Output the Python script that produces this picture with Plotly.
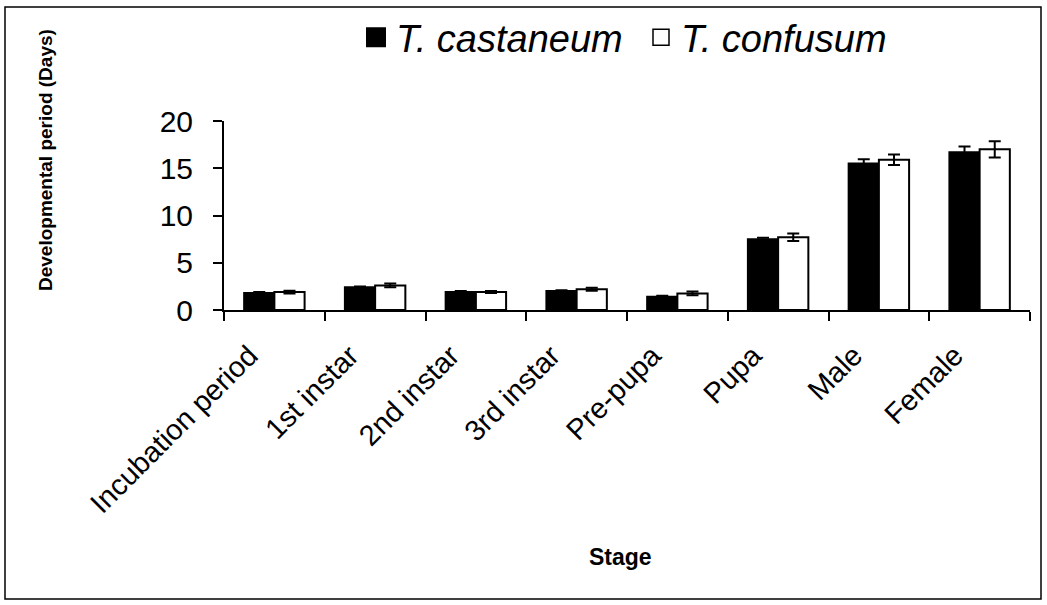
import plotly.graph_objects as go

stages = ["Incubation period", "1st instar", "2nd instar", "3rd instar",
          "Pre-pupa", "Pupa", "Male", "Female"]
castaneum = [1.8, 2.4, 1.9, 2.0, 1.4, 7.5, 15.5, 16.7]
castaneum_err = [0.1, 0.1, 0.1, 0.1, 0.1, 0.15, 0.45, 0.6]
confusum = [1.9, 2.6, 1.9, 2.2, 1.75, 7.7, 15.9, 17.0]
confusum_err = [0.15, 0.2, 0.1, 0.15, 0.2, 0.4, 0.55, 0.85]
series_names = ["T. castaneum", "T. confusum"]
y_ticks = [0, 5, 10, 15, 20]
x_title = "Stage"
y_title = "Developmental period (Days)"

W, H = 1047, 605
L, R, T, B = 224, 17, 121, 295
pw, ph = W - L - R, H - T - B

def px2paper_x(px):
    return (px - L) / pw

def px2paper_y(py):
    return 1 - (py - T) / ph

fig = go.Figure()
fig.add_trace(go.Bar(
    x=stages, y=castaneum, name=series_names[0], showlegend=False,
    marker=dict(color="black", line=dict(color="black", width=2)),
    error_y=dict(type="data", array=castaneum_err, color="black", thickness=2, width=6),
))
fig.add_trace(go.Bar(
    x=stages, y=confusum, name=series_names[1], showlegend=False,
    marker=dict(color="white", line=dict(color="black", width=2)),
    error_y=dict(type="data", array=confusum_err, color="black", thickness=2, width=6),
))
# legend proxies
fig.add_trace(go.Scatter(x=[None], y=[None], mode="markers", name=series_names[0],
                         marker=dict(symbol="square", size=16, color="black",
                                     line=dict(color="black", width=4))))
fig.add_trace(go.Scatter(x=[None], y=[None], mode="markers", name=series_names[1],
                         marker=dict(symbol="square", size=16, color="white",
                                     line=dict(color="black", width=1.5))))

fig.update_layout(
    width=W, height=H,
    margin=dict(l=L, r=R, t=T, b=B, autoexpand=False),
    paper_bgcolor="white", plot_bgcolor="white",
    font=dict(family="Liberation Sans, Arial, sans-serif", color="black"),
    barmode="group", bargap=0.4, bargroupgap=0,
    showlegend=True,
    legend=dict(orientation="h", x=px2paper_x(356), xanchor="left",
                y=px2paper_y(6), yanchor="top",
                font=dict(size=38, style="italic"),
                itemsizing="trace", bgcolor="rgba(0,0,0,0)",
                entrywidth=240, entrywidthmode="pixels"),
    xaxis=dict(
        type="category", range=[-0.5, 7.5],
        showline=True, linecolor="black", linewidth=2,
        ticks="outside", tickson="boundaries", ticklen=9, tickwidth=2, tickcolor="black",
        tickangle=-45, tickfont=dict(size=29),
        ticklabelshift=-25, ticklabelstandoff=15,
        showgrid=False, zeroline=False,
        automargin=False,
    ),
    yaxis=dict(
        range=[0, 20], tickvals=y_ticks,
        showline=True, linecolor="black", linewidth=2,
        ticks="outside", ticklen=9, tickwidth=2, tickcolor="black",
        tickfont=dict(size=30), ticklabelstandoff=14,
        showgrid=False, zeroline=False,
        automargin=False,
    ),
    annotations=[
        dict(text="<b>" + x_title + "</b>", xref="paper", yref="paper",
             x=px2paper_x(620), y=px2paper_y(557), xanchor="center", yanchor="middle",
             showarrow=False, font=dict(size=23)),
        dict(text="<b>" + y_title + "</b>", xref="paper", yref="paper",
             x=px2paper_x(45), y=px2paper_y(160), xanchor="center", yanchor="middle",
             textangle=-90, showarrow=False, font=dict(size=19)),
    ],
    shapes=[dict(type="rect", xref="paper", yref="paper",
                 x0=px2paper_x(5), x1=px2paper_x(1041),
                 y0=px2paper_y(599), y1=px2paper_y(7),
                 line=dict(color="black", width=1.5), fillcolor="rgba(0,0,0,0)",
                 layer="above")],
)

fig.write_html("out.html", config={"displayModeBar": False},
               post_script="document.body.style.margin='0';document.body.style.overflow='hidden';")
